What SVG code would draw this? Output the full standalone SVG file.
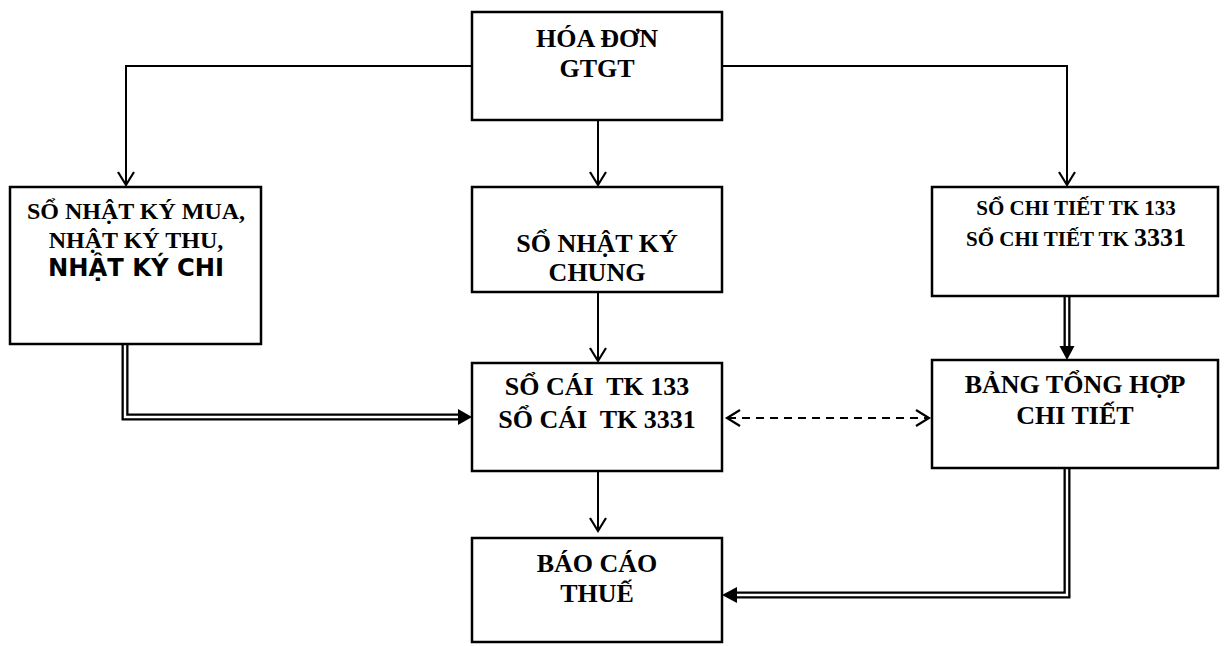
<svg xmlns="http://www.w3.org/2000/svg" width="1227" height="646" viewBox="0 0 1227 646">
<style>
.box{fill:#fff;stroke:#000;stroke-width:2.5}
.t{font-family:"Liberation Serif","Times New Roman",serif;font-weight:bold;font-size:26px;text-anchor:middle;fill:#000}
.s{font-size:24px}
.r{font-size:21px}
.sans{font-family:"DejaVu Sans",Verdana,sans-serif;font-weight:bold;font-size:25px;text-anchor:middle}
.ln{fill:none;stroke:#000;stroke-width:2}
.chev{fill:none;stroke:#000;stroke-width:2.2;stroke-linejoin:miter}
.dblo{fill:none;stroke:#000;stroke-width:7;stroke-linejoin:miter}
.dbli{fill:none;stroke:#fff;stroke-width:2.4;stroke-linejoin:miter}
.head{fill:#000}
.dash{fill:none;stroke:#000;stroke-width:2;stroke-dasharray:8 6}
</style>
<g id="connectors">
  <path class="ln" d="M472 66 H126 V184"/>
  <path class="chev" d="M118 172 L126 185 L134 172"/>
  <path class="ln" d="M722 66 H1067 V184"/>
  <path class="chev" d="M1059 172 L1067 185 L1075 172"/>
  <path class="ln" d="M598 120 V184"/>
  <path class="chev" d="M590 172 L598 185 L606 172"/>
  <path class="ln" d="M598 292 V360"/>
  <path class="chev" d="M590 348 L598 361 L606 348"/>
  <path class="ln" d="M598 471 V530"/>
  <path class="chev" d="M590 518 L598 531 L606 518"/>
  <path class="dash" d="M728 418 H928"/>
  <path class="chev" d="M740 410 L727 418 L740 426"/>
  <path class="chev" d="M916 410 L929 418 L916 426"/>
  <path class="dblo" d="M125 344 V417 H459"/>
  <path class="dbli" d="M125 344 V417 H460"/>
  <path class="head" d="M458 409 L472 417 L458 425 Z"/>
  <path class="dblo" d="M1067 296 V347"/>
  <path class="dbli" d="M1067 296 V348"/>
  <path class="head" d="M1059.5 346 L1067 360 L1074.5 346 Z"/>
  <path class="dblo" d="M1067 468 V595 H736"/>
  <path class="dbli" d="M1067 468 V595 H735"/>
  <path class="head" d="M737 587 L722 595 L737 603 Z"/>
</g>
<g id="hoadon">
  <rect class="box" x="472" y="12" width="250" height="108"/>
  <text class="t" x="597" y="47">HÓA ĐƠN</text>
  <text class="t" x="597" y="77">GTGT</text>
</g>
<g id="nhatkymua">
  <rect class="box" x="10" y="187" width="251" height="157"/>
  <text class="t s" x="136" y="219">SỔ NHẬT KÝ MUA,</text>
  <text class="t s" x="136" y="248">NHẬT KÝ THU,</text>
  <text class="sans" x="136" y="276" textLength="176" lengthAdjust="spacingAndGlyphs">NHẬT KÝ CHI</text>
</g>
<g id="nhatkychung">
  <rect class="box" x="472" y="187" width="250" height="105"/>
  <text class="t" x="597" y="252">SỔ NHẬT KÝ</text>
  <text class="t" x="597" y="281">CHUNG</text>
</g>
<g id="sochitiet">
  <rect class="box" x="932" y="187" width="286" height="109"/>
  <text class="t r" x="1076" y="215">SỔ CHI TIẾT TK 133</text>
  <text class="t r" x="1076" y="246">SỔ CHI TIẾT TK <tspan style="font-size:26px">3331</tspan></text>
</g>
<g id="socai">
  <rect class="box" x="472" y="363" width="250" height="108"/>
  <text class="t" x="597" y="395" xml:space="preserve">SỔ CÁI  TK 133</text>
  <text class="t" x="597" y="428" xml:space="preserve">SỔ CÁI  TK 3331</text>
</g>
<g id="bangtonghop">
  <rect class="box" x="932" y="360" width="286" height="108"/>
  <text class="t" x="1075" y="393">BẢNG TỔNG HỢP</text>
  <text class="t" x="1075" y="424">CHI TIẾT</text>
</g>
<g id="baocaothue">
  <rect class="box" x="472" y="538" width="250" height="104"/>
  <text class="t" x="597" y="572">BÁO CÁO</text>
  <text class="t" x="597" y="602">THUẾ</text>
</g>
</svg>
